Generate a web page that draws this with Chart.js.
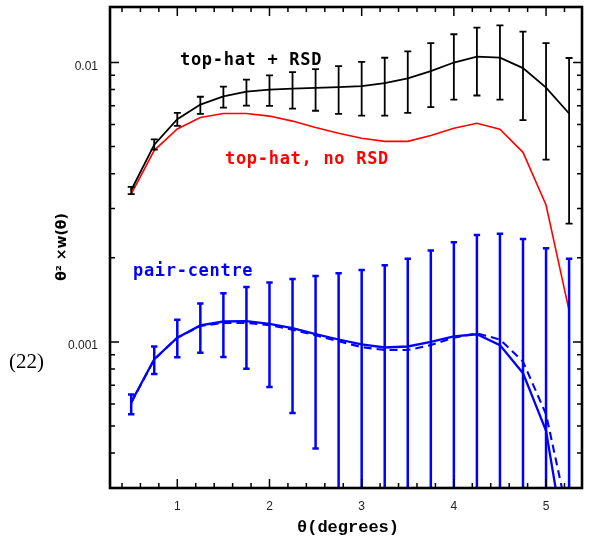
<!DOCTYPE html>
<html>
<head>
<meta charset="utf-8">
<script src="https://cdn.jsdelivr.net/npm/chart.js@4.4.1/dist/chart.umd.min.js"></script>
<style>
  html, body { margin: 0; padding: 0; background: #fff; }
  #wrap { width: 592px; height: 542px; position: relative; }
</style>
</head>
<body>
<div id="wrap"><canvas id="wtheta"></canvas></div>
<script>
// angular bins (degrees)
const theta = [0.5, 0.75, 1.0, 1.25, 1.5, 1.75, 2.0, 2.25, 2.5, 2.75, 3.0, 3.25, 3.5, 3.75, 4.0, 4.25, 4.5, 4.75, 5.0, 5.25];

// top-hat + RSD (black) with error bars
const topHatRsd    = [0.00349, 0.00508, 0.00627, 0.00707, 0.00756, 0.00786, 0.00800, 0.00807, 0.00811, 0.00816, 0.00823, 0.00843, 0.00878, 0.00932, 0.0100, 0.0105, 0.01041, 0.00955, 0.00813, 0.00657];
const topHatRsdHi  = [0.00359, 0.00531, 0.00660, 0.00754, 0.00820, 0.00868, 0.00900, 0.00924, 0.00947, 0.00970, 0.01005, 0.0104, 0.01096, 0.01173, 0.01262, 0.01332, 0.01358, 0.0129, 0.01173, 0.01038];
const topHatRsdLo  = [0.00338, 0.00488, 0.00593, 0.00655, 0.00690, 0.00701, 0.00699, 0.00684, 0.00672, 0.00655, 0.00646, 0.00646, 0.00660, 0.00692, 0.00736, 0.00762, 0.00736, 0.00622, 0.00449, 0.00265];

// top-hat, no RSD (red)
const topHatNoRsd  = [0.00338, 0.00485, 0.00578, 0.00636, 0.00657, 0.00657, 0.00643, 0.00617, 0.00585, 0.00558, 0.00536, 0.00522, 0.00522, 0.00548, 0.00582, 0.00606, 0.00577, 0.00477, 0.00309, 0.001294];

// pair-centre (blue solid) with error bars, plus dashed variant
const pairCentre   = [0.000608, 0.000867, 0.001036, 0.001145, 0.001183, 0.001186, 0.001161, 0.00112, 0.001067, 0.00102, 0.000979, 0.000955, 0.000963, 0.0010, 0.001047, 0.001065, 0.000974, 0.000773, 0.000481, 0.000154];
const pairCentreHi = [0.000648, 0.000963, 0.0012, 0.001373, 0.001494, 0.001572, 0.001633, 0.001679, 0.00172, 0.001762, 0.00181, 0.00188, 0.001985, 0.002124, 0.002272, 0.002413, 0.002438, 0.002335, 0.002163, 0.001985];
const pairCentreLo = [0.000551, 0.000767, 0.000881, 0.000915, 0.000883, 0.000801, 0.00069, 0.000557, 0.000415, 0.00001, 0.00001, 0.00001, 0.00001, 0.00001, 0.00001, 0.00001, 0.00001, 0.00001, 0.00001, 0.00001];
const pairCentreDash = [0.000605, 0.000865, 0.001036, 0.00114, 0.00117, 0.00117, 0.001148, 0.001106, 0.001056, 0.001006, 0.000958, 0.000935, 0.000935, 0.000974, 0.001036, 0.001073, 0.00102, 0.00085, 0.000551, 0.000228];

// axis ticks
const xTicks = [1, 2, 3, 4, 5];
const xMinor = [0.4, 0.6, 0.8, 1.2, 1.4, 1.6, 1.8, 2.2, 2.4, 2.6, 2.8, 3.2, 3.4, 3.6, 3.8, 4.2, 4.4, 4.6, 4.8, 5.2];
const yTicks = [0.001, 0.01];
const yTickLabels = ['0.001', '0.01'];
const yMinor = [0.0004, 0.0005, 0.0006, 0.0007, 0.0008, 0.0009, 0.002, 0.003, 0.004, 0.005, 0.006, 0.007, 0.008, 0.009];

function pts(ys) {
    return theta.map((t, i) => ({ x: t, y: ys[i] }));
}

// error bars, frame, inward ticks and labels
const extras = {
    id: 'extras',
    afterDatasetsDraw(chart) {
        const ctx = chart.ctx;
        const xs = chart.scales.x, ys = chart.scales.y;
        const a = chart.chartArea;
        ctx.save();
        ctx.beginPath();
        ctx.rect(a.left, a.top, a.right - a.left, a.bottom - a.top);
        ctx.clip();
        function bars(hi, lo, color, lw, cap) {
            ctx.strokeStyle = color;
            ctx.lineWidth = lw;
            theta.forEach((t, i) => {
                const px = xs.getPixelForValue(t);
                const top = ys.getPixelForValue(hi[i]);
                const bot = ys.getPixelForValue(lo[i]);
                ctx.beginPath();
                ctx.moveTo(px, top); ctx.lineTo(px, bot);
                ctx.moveTo(px - cap, top); ctx.lineTo(px + cap, top);
                ctx.moveTo(px - cap, bot); ctx.lineTo(px + cap, bot);
                ctx.stroke();
            });
        }
        bars(topHatRsdHi, topHatRsdLo, '#000', 1.8, 3.5);
        bars(pairCentreHi, pairCentreLo, '#0000ff', 2.5, 3.2);
        ctx.restore();
    },
    afterDraw(chart) {
        const ctx = chart.ctx;
        const xs = chart.scales.x, ys = chart.scales.y;
        const a = chart.chartArea;
        ctx.save();
        ctx.strokeStyle = '#000';

        // inward ticks on all four sides
        ctx.lineWidth = 1.5;
        function xTick(v, len) {
            const px = xs.getPixelForValue(v);
            ctx.beginPath();
            ctx.moveTo(px, a.bottom); ctx.lineTo(px, a.bottom - len);
            ctx.moveTo(px, a.top); ctx.lineTo(px, a.top + len);
            ctx.stroke();
        }
        function yTick(v, len) {
            const py = ys.getPixelForValue(v);
            ctx.beginPath();
            ctx.moveTo(a.left, py); ctx.lineTo(a.left + len, py);
            ctx.moveTo(a.right, py); ctx.lineTo(a.right - len, py);
            ctx.stroke();
        }
        xTicks.forEach(v => xTick(v, 9));
        xMinor.forEach(v => xTick(v, 5));
        yTicks.forEach(v => yTick(v, 9));
        yMinor.forEach(v => yTick(v, 5));

        // frame
        ctx.lineWidth = 2.6;
        ctx.strokeRect(a.left, a.top, a.right - a.left, a.bottom - a.top);

        // y tick labels
        ctx.fillStyle = '#222';
        ctx.font = "12px 'Liberation Sans'";
        ctx.textAlign = 'right';
        ctx.textBaseline = 'middle';
        yTicks.forEach((v, i) => {
            ctx.fillText(yTickLabels[i], a.left - 12, ys.getPixelForValue(v) + 4);
        });

        // curve labels
        ctx.font = "bold 17px 'DejaVu Sans Mono'";
        ctx.letterSpacing = '0.7px';
        ctx.textBaseline = 'alphabetic';
        ctx.textAlign = 'left';
        ctx.fillStyle = '#000';
        ctx.fillText('top-hat + RSD', 180, 65);
        ctx.fillStyle = '#ff0000';
        ctx.fillText('top-hat, no RSD', 225, 164);
        ctx.fillStyle = '#0000ff';
        ctx.fillText('pair-centre', 133, 276);
        ctx.letterSpacing = '0px';

        // axis titles
        ctx.fillStyle = '#000';
        ctx.font = "bold 17px 'Liberation Mono'";
        ctx.textAlign = 'center';
        ctx.fillText('\u03b8(degrees)', 348, 532);

        ctx.save();
        ctx.translate(66, 247);
        ctx.rotate(-Math.PI / 2);
        ctx.font = "bold 14px 'DejaVu Sans'";
        ctx.textAlign = 'center';
        ctx.fillText('\u03b8\u00b2 \u00d7w(\u03b8)', 0, 0);
        ctx.restore();

        // equation number
        ctx.font = "21px 'Liberation Serif'";
        ctx.textAlign = 'left';
        ctx.textBaseline = 'middle';
        ctx.fillText('(22)', 9, 362);
        ctx.restore();
    }
};

const ctx = document.getElementById('wtheta').getContext('2d');
const chart = new Chart(ctx, {
    type: 'line',
    data: {
        datasets: [
            { label: 'top-hat + RSD', data: pts(topHatRsd), borderColor: '#000', borderWidth: 1.8 },
            { label: 'top-hat, no RSD', data: pts(topHatNoRsd), borderColor: '#ff0000', borderWidth: 1.6 },
            { label: 'pair-centre', data: pts(pairCentre), borderColor: '#0000ff', borderWidth: 2.3 },
            { label: 'pair-centre (dashed)', data: pts(pairCentreDash), borderColor: '#0000ff', borderWidth: 2.1, borderDash: [8, 5] }
        ]
    },
    options: {
        responsive: true,
        maintainAspectRatio: false,
        animation: false,
        layout: { padding: { top: 7, right: 10, left: 0, bottom: 0 } },
        elements: {
            point: { radius: 0 },
            line: { tension: 0, fill: false }
        },
        plugins: {
            legend: { display: false },
            tooltip: { enabled: false }
        },
        scales: {
            x: {
                type: 'linear',
                min: 0.27,
                max: 5.39,
                afterBuildTicks: function(axis) {
                    axis.ticks = xTicks.map(v => ({ value: v }));
                },
                afterFit: function(axis) { axis.height = 54; },
                grid: { display: false, drawTicks: false },
                border: { display: false },
                ticks: {
                    autoSkip: false,
                    maxRotation: 0,
                    padding: 11,
                    color: '#222',
                    font: { family: "'Liberation Sans'", size: 12 }
                }
            },
            y: {
                type: 'logarithmic',
                min: 0.000317,
                max: 0.0158,
                afterFit: function(axis) { axis.width = 110; },
                grid: { display: false, drawTicks: false },
                border: { display: false },
                ticks: { display: false }
            }
        }
    },
    plugins: [extras]
});
</script>
</body>
</html>
